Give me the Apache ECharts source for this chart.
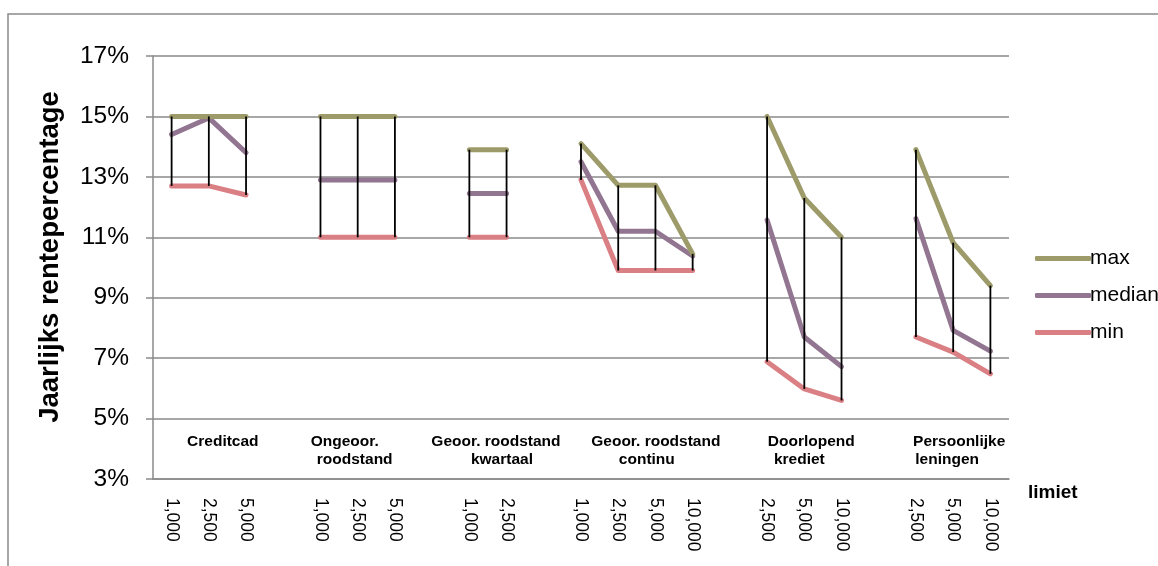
<!DOCTYPE html>
<html><head><meta charset="utf-8">
<script src="https://cdn.jsdelivr.net/npm/echarts@6/dist/echarts.min.js"></script>
<style>html,body{margin:0;padding:0;background:#fff}#c{width:1158px;height:566px}</style>
</head><body><div id="c"></div>
<script>
// ---- data (values in %) ----
const groupLabels = [['Creditcad'], ['Ongeoor.', 'roodstand'], ['Geoor. roodstand', 'kwartaal'], ['Geoor. roodstand', 'continu'], ['Doorlopend', 'krediet'], ['Persoonlijke', 'leningen']];
const limits = [['1,000', '2,500', '5,000'], ['1,000', '2,500', '5,000'], ['1,000', '2,500'], ['1,000', '2,500', '5,000', '10,000'], ['2,500', '5,000', '10,000'], ['2,500', '5,000', '10,000']];
const maxValues = [[15, 15, 15], [15, 15, 15], [13.9, 13.9], [14.1, 12.72, 12.72, 10.45], [15, 12.3, 11], [13.9, 10.82, 9.4]];
const medianValues = [[14.4, 14.95, 13.8], [12.9, 12.9, 12.9], [12.45, 12.45], [13.5, 11.2, 11.2, 10.38], [11.57, 7.7, 6.72], [11.62, 7.92, 7.23]];
const minValues = [[12.7, 12.7, 12.4], [11, 11, 11], [11, 11], [12.9, 9.9, 9.9, 9.9], [6.88, 5.98, 5.6], [7.7, 7.2, 6.48]];
const seriesNames = ['max', 'median', 'min'];
const yMin = 3, yMax = 17, yStep = 2;
const axisTitle = 'Jaarlijks rentepercentage';
const xTitle = 'limiet';

// ---- layout / style (not data) ----
const labelDx = [[14], [-13, -3], [8, 14], [19, 10], [7, -5], [6, -6]];
const colors = ['#9e9b6a', '#927590', '#da7f83'];
const FONT = "'Liberation Sans', Arial, sans-serif";

// build flat category axis with a blank slot between groups
const categories = [], maxS = [], medS = [], minS = [], ranges = [];
groupLabels.forEach((g, gi) => {
  if (gi > 0) { categories.push(''); maxS.push(null); medS.push(null); minS.push(null); }
  const start = categories.length;
  limits[gi].forEach((l, i) => {
    categories.push(l);
    maxS.push(maxValues[gi][i]); medS.push(medianValues[gi][i]); minS.push(minValues[gi][i]);
  });
  ranges.push([start, categories.length - 1, gi]);
});
const hiLo = [];
categories.forEach((c, i) => { if (maxS[i] != null) hiLo.push([i, maxS[i], minS[i]]); });

const chart = echarts.init(document.getElementById('c'), null, {renderer: 'canvas'});
const lineSeries = [maxS, medS, minS].map((d, k) => ({
  name: seriesNames[k], type: 'line', data: d, symbol: 'none', connectNulls: false,
  lineStyle: {color: colors[k], width: 5, cap: 'round', join: 'round'},
  itemStyle: {color: colors[k]}, z: 3 - k + 2, animation: false
}));

chart.setOption({
  animation: false,
  textStyle: {fontFamily: FONT},
  grid: {left: 153, right: 149, top: 56, bottom: 87, containLabel: false},
  legend: {
    orient: 'vertical', left: 1030, top: 243, itemWidth: 56, itemHeight: 5, itemGap: 16,
    icon: 'roundRect', data: seriesNames,
    textStyle: {fontSize: 21, color: '#000', fontFamily: FONT, padding: [0, 0, 0, -6]}
  },
  xAxis: {
    type: 'category', data: categories, boundaryGap: true,
    axisLine: {lineStyle: {color: '#8a8a8a', width: 1.5}},
    axisTick: {show: false},
    axisLabel: {interval: 0, rotate: -90, margin: 19, fontSize: 17.5, color: '#000', fontFamily: FONT},
    splitLine: {show: false}
  },
  yAxis: {
    type: 'value', min: yMin, max: yMax, interval: yStep,
    axisLine: {show: true, lineStyle: {color: '#8a8a8a', width: 1.5}},
    axisTick: {show: true, inside: false, length: 7, lineStyle: {color: '#8a8a8a', width: 1.5}},
    axisLabel: {formatter: v => v + '%', fontSize: 24.5, color: '#000', margin: 24, fontFamily: FONT},
    splitLine: {show: true, lineStyle: {color: '#8a8a8a', width: 1.5}}
  },
  graphic: [
    {type: 'rect', silent: true, z: -10,
     shape: {x: 8, y: 14, width: 1300, height: 700}, style: {fill: 'none', stroke: '#8a8a8a', lineWidth: 1.5}},
    {type: 'text', x: 50, y: 257, rotation: Math.PI / 2,
     style: {text: axisTitle, font: "bold 27.5px " + FONT, fill: '#000', textAlign: 'center', textVerticalAlign: 'middle'}},
    {type: 'text', x: 1028, y: 493,
     style: {text: xTitle, font: "bold 19px " + FONT, fill: '#000', textAlign: 'left', textVerticalAlign: 'middle'}}
  ],
  series: lineSeries.concat([
    {
      type: 'custom', name: 'hilo', data: hiLo, encode: {x: 0, y: [1, 2]}, z: 10, silent: true,
      renderItem: (params, api) => {
        const p1 = api.coord([api.value(0), api.value(1)]);
        const p2 = api.coord([api.value(0), api.value(2)]);
        return {type: 'line', shape: {x1: p1[0], y1: p1[1], x2: p2[0], y2: p2[1]},
                style: {stroke: '#000', lineWidth: 1.8}};
      }
    },
    {
      type: 'custom', name: 'groups', data: ranges.map(r => [r[0], r[1], yMin + yStep, r[2]]),
      encode: {x: [0, 1], y: 2}, z: 10, silent: true,
      renderItem: (params, api) => {
        const a = api.coord([api.value(0), api.value(2)]);
        const b = api.coord([api.value(1), api.value(2)]);
        const gi = api.value(3);
        const cx = (a[0] + b[0]) / 2;
        const lines = groupLabels[gi];
        return {type: 'group', children: lines.map((t, li) => ({
          type: 'text', x: cx + labelDx[gi][li], y: a[1] + 23 + li * 18,
          style: {text: t, font: "bold 15.5px " + FONT, fill: '#000', textAlign: 'center', textVerticalAlign: 'middle'}
        }))};
      }
    }
  ])
});
</script></body></html>
